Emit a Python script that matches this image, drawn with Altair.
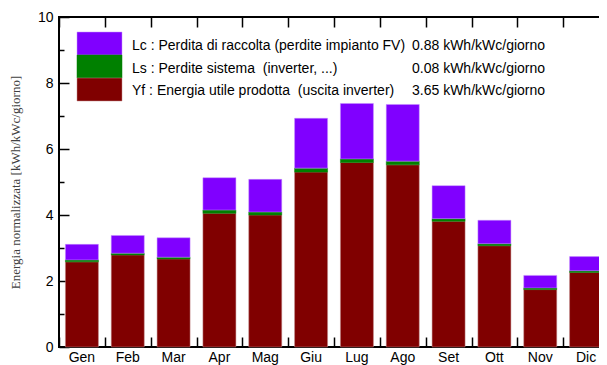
import altair as alt
import pandas as pd

months = ["Gen", "Feb", "Mar", "Apr", "Mag", "Giu", "Lug", "Ago", "Set", "Ott", "Nov", "Dic"]
yf = [2.58, 2.79, 2.67, 4.05, 4.00, 5.30, 5.59, 5.52, 3.81, 3.07, 1.74, 2.26]
ls = [0.06, 0.05, 0.05, 0.10, 0.09, 0.12, 0.11, 0.11, 0.08, 0.06, 0.05, 0.05]
lc = [0.47, 0.54, 0.59, 0.98, 0.99, 1.51, 1.68, 1.72, 1.00, 0.71, 0.38, 0.43]

comp_keys = ["Lc", "Ls", "Yf"]
comp_colors = ["#8000ff", "#008000", "#800000"]
edge_colors = ["#c490ff", "#008000", "#c08a8a"]
legend_labels = [
    "Lc : Perdita di raccolta (perdite impianto FV)",
    "Ls : Perdite sistema\u00a0 (inverter, ...)",
    "Yf : Energia utile prodotta\u00a0 (uscita inverter)",
]
legend_values = ["0.88 kWh/kWc/giorno", "0.08 kWh/kWc/giorno", "3.65 kWh/kWc/giorno"]
y_major = [0, 2, 4, 6, 8, 10]
y_minor = [1, 3, 5, 7, 9]

rows = []
for i, m in enumerate(months):
    for key, vals, order in (("Yf", yf, 0), ("Ls", ls, 1), ("Lc", lc, 2)):
        rows.append({"mese": m, "comp": key, "valore": vals[i], "ordine": order})
df = pd.DataFrame(rows)

SANS = "Liberation Sans"
SERIF = "Liberation Serif"
FS = 14

x_scale = alt.Scale(type="band", domain=months, paddingInner=0, paddingOuter=0)
y_scale = alt.Scale(domain=[0, 10], nice=False, zero=True)

bars = alt.Chart(df).mark_bar(width=alt.RelativeBandSize(0.72), strokeWidth=0.5).encode(
    x=alt.X("mese:N", scale=x_scale, axis=alt.Axis(
        orient="bottom", title=None, ticks=False, domain=False, grid=False,
        labelAngle=0, labelPadding=3, labelFont=SANS, labelFontSize=FS, labelColor="black")),
    y=alt.Y("valore:Q", stack="zero", scale=y_scale, axis=alt.Axis(
        orient="left", values=y_major, ticks=False, domain=False, grid=False,
        labelPadding=6, labelFont=SANS, labelFontSize=FS, labelColor="black",
        title="Energia normalizzata [kWh/kWc/giorno]", titleFont=SERIF, titleFontSize=13,
        titleFontWeight="normal", titleColor="#404040", titlePadding=15)),
    color=alt.Color("comp:N", scale=alt.Scale(domain=comp_keys, range=comp_colors), legend=None),
    stroke=alt.Stroke("comp:N", scale=alt.Scale(domain=comp_keys, range=edge_colors), legend=None),
    order=alt.Order("ordine:Q", sort="ascending"),
)


def tick_layer(xaxis, yaxis):
    return alt.Chart(df).mark_point(opacity=0).encode(
        x=alt.X("mese:N", scale=x_scale, axis=xaxis),
        y=alt.Y("valore:Q", scale=y_scale, axis=yaxis),
    )


def xticks(orient):
    return alt.Axis(orient=orient, tickBand="extent", labels=False, domain=False, ticks=True,
                    tickSize=10, offset=-10, title=None, grid=False, tickColor="black", tickWidth=1.5)


def yticks(orient, vals, size):
    return alt.Axis(orient=orient, values=vals, labels=False, domain=False, ticks=True,
                    tickSize=size, offset=-size, title=None, grid=False, tickColor="black", tickWidth=1.5)


layers = [
    bars,
    tick_layer(xticks("bottom"), yticks("left", y_major, 10)),
    tick_layer(xticks("top"), yticks("right", y_major, 10)),
    tick_layer(None, yticks("left", y_minor, 5)),
    tick_layer(None, yticks("right", y_minor, 5)),
]

row_h = 23
for i, key in enumerate(comp_keys):
    one = pd.DataFrame({"comp": [key], "label": [legend_labels[i]], "val": [legend_values[i]]})
    layers.append(alt.Chart(one).mark_rect(color=comp_colors[i], stroke=edge_colors[i], strokeWidth=0.5).encode(
        x=alt.value(18), x2=alt.value(63),
        y=alt.value(15 + i * row_h), y2=alt.value(15 + (i + 1) * row_h)))
    layers.append(alt.Chart(one).mark_text(align="left", baseline="middle", font=SANS, fontSize=FS,
                                           color="black").encode(
        x=alt.value(73), y=alt.value(29 + i * 22.5), text="label:N"))
    layers.append(alt.Chart(one).mark_text(align="left", baseline="middle", font=SANS, fontSize=FS,
                                           color="black").encode(
        x=alt.value(353), y=alt.value(29 + i * 22.5), text="val:N"))

chart = alt.layer(*layers).resolve_axis(x="independent", y="independent").properties(
    width=550, height=330,
    autosize=alt.AutoSizeParams(type="none"),
    padding={"left": 51, "top": 9, "right": -10, "bottom": 18},
).configure_view(stroke="black", strokeWidth=2)

chart.save("out.html", embed_options={"renderer": "svg", "actions": False})
